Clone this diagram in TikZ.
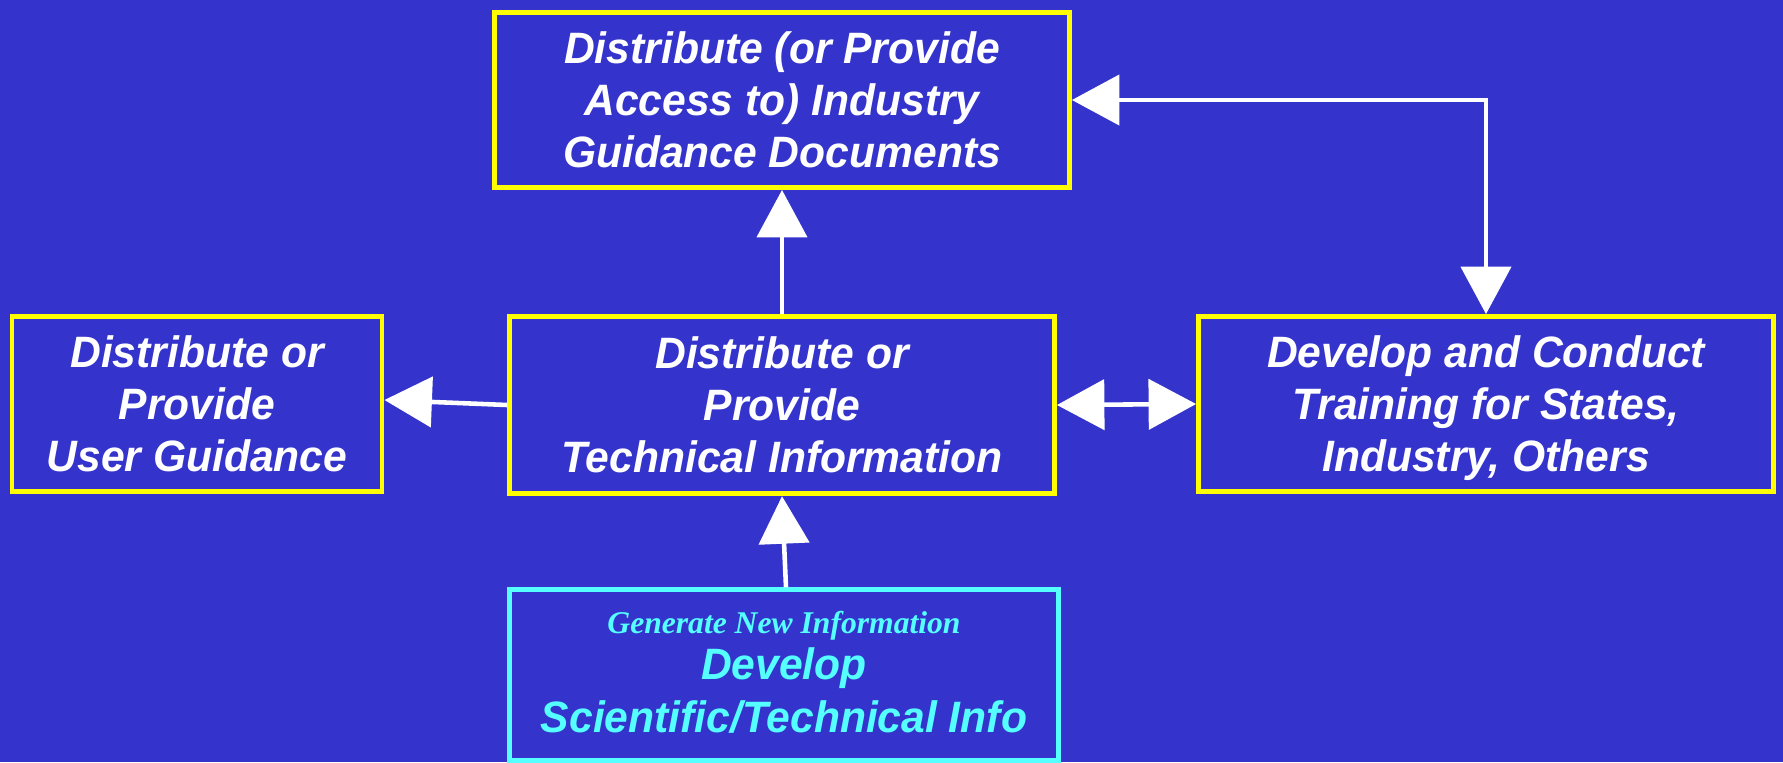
\documentclass[tikz,border=0pt]{standalone}
\usepackage{fontspec}
\setmainfont{Liberation Sans}[FakeStretch=0.97]
\newfontfamily\serifbi{Liberation Serif}
\usetikzlibrary{arrows.meta}
\definecolor{bg}{RGB}{52,52,204}
\definecolor{yel}{RGB}{255,255,0}
\definecolor{cyn}{RGB}{85,255,255}
\begin{document}
\begin{tikzpicture}[x=0.02cm,y=-0.02cm,
  box/.style={draw=yel, line width=2.8pt, fill=bg, text=white, align=center,
    font=\fontsize{25}{29.6}\selectfont\bfseries\itshape, inner sep=0pt, text depth=0pt},
  cbox/.style={box, draw=cyn, text=cyn, text depth=4pt},
  link/.style={draw=white, line width=2.6pt, -{Triangle[length=0.95cm,width=1cm]}},
  dlink/.style={draw=white, line width=2.6pt, {Triangle[length=0.95cm,width=1cm]}-{Triangle[length=0.95cm,width=1cm]}},
]
\fill[bg] (0,0) rectangle (1783,762);
\useasboundingbox (0,0) rectangle (1783,762);

\node[box, minimum width=11.5cm, minimum height=3.5cm] (top) at (782,100)
  {Distribute (or Provide\\Access to) Industry\\Guidance Documents};
\node[box, minimum width=7.4cm, minimum height=3.5cm] (left) at (197,404)
  {Distribute or\\Provide\\User Guidance};
\node[box, minimum width=10.9cm, minimum height=3.55cm] (mid) at (782,405)
  {Distribute or\\Provide\\Technical Information};
\node[box, minimum width=11.5cm, minimum height=3.5cm] (right) at (1486,404)
  {Develop and Conduct\\Training for States,\\Industry, Others};
\node[cbox, minimum width=11.0cm, minimum height=3.41cm] (bot) at (784,675)
  {{\serifbi\fontsize{18}{20}\selectfont Generate New Information}\\[-3pt]
   Develop\\Scientific/Technical Info};

\draw[link] (mid.north) -- (top.south);
\draw[link] (mid.west) -- ([yshift=0.08cm]left.east);
\draw[dlink] (mid.east) -- (right.west);
\draw[dlink] (top.east) -| (right.north);
\draw[link] ([xshift=0.04cm]bot.north) -- (mid.south);
\end{tikzpicture}
\end{document}
